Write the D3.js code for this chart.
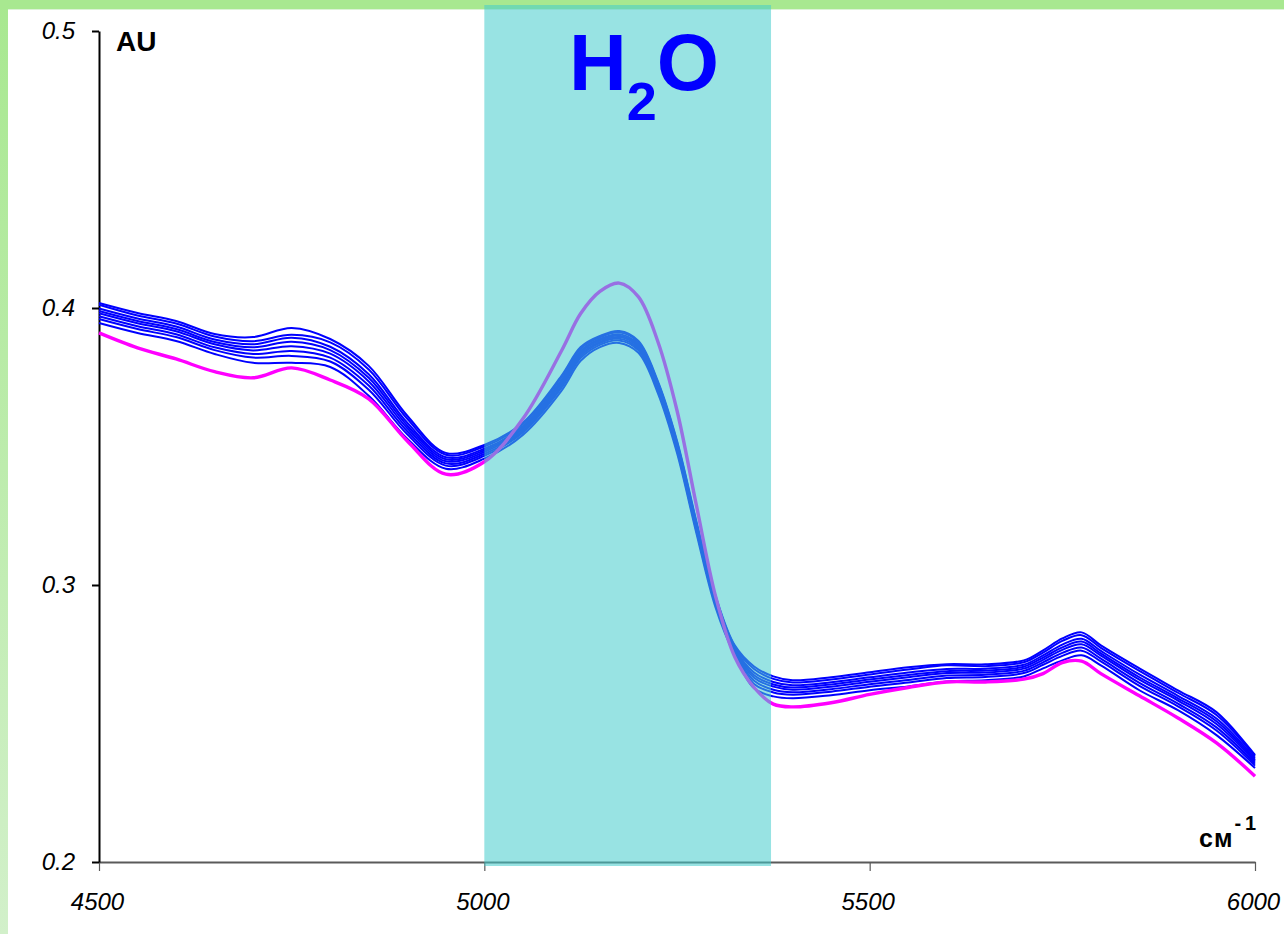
<!DOCTYPE html>
<html>
<head>
<meta charset="utf-8">
<script src="https://cdn.jsdelivr.net/npm/d3@7"></script>
<style>
  html, body { margin: 0; padding: 0; background: #fff; }
  svg { display: block; }
  text { font-family: "Liberation Sans", Arial, Helvetica, sans-serif; }
</style>
</head>
<body>
<svg id="chart" width="1284" height="934"></svg>
<script>
// Wavenumber grid (cm^-1) shared by every spectrum
const wavenumbers = [4500,4550,4600,4650,4700,4750,4800,4850,4900,4950,
                     5000,5050,5100,5125,5150,5175,5200,5225,5250,5275,
                     5300,5325,5350,5375,5400,5450,5500,5550,5600,5650,
                     5700,5725,5750,5775,5800,5850,5900,5950,6000];

// Absorbance (AU) of the reference spectrum
const magenta = [.3910,.3856,.3816,.3770,.3748,.3784,.3740,.3672,.3520,.3400,
                 .3445,.3600,.3845,.3980,.4060,.4090,.4040,.3880,.3630,.3290,
                 .2960,.2740,.2630,.2570,.2560,.2575,.2605,.2630,.2650,.2650,
                 .2660,.2680,.2720,.2725,.2680,.2600,.2520,.2430,.2310];

// Absorbance (AU) of the sample spectra
const blue1 = [.4018,.3982,.3953,.3906,.3895,.3928,.3888,.3791,.3611,.3477,
               .3506,.3586,.3755,.3859,.3899,.3917,.3881,.3737,.3521,.3232,
               .2962,.2782,.2706,.2670,.2656,.2667,.2685,.2703,.2714,.2714,
               .2728,.2764,.2807,.2829,.2782,.2699,.2620,.2541,.2386];
const blue2 = [.4012,.3973,.3944,.3897,.3880,.3903,.3876,.3778,.3600,.3470,
               .3500,.3581,.3749,.3853,.3894,.3912,.3876,.3732,.3516,.3227,
               .2957,.2778,.2697,.2661,.2648,.2659,.2677,.2695,.2710,.2707,
               .2721,.2756,.2798,.2819,.2773,.2690,.2611,.2531,.2380];
const blue3 = [.3998,.3962,.3933,.3886,.3869,.3893,.3860,.3761,.3586,.3461,
               .3492,.3574,.3740,.3845,.3888,.3905,.3869,.3725,.3509,.3220,
               .2950,.2772,.2684,.2650,.2638,.2649,.2667,.2684,.2697,.2698,
               .2712,.2746,.2785,.2806,.2762,.2677,.2600,.2518,.2373];
const blue4 = [.3989,.3953,.3924,.3877,.3858,.3878,.3848,.3748,.3576,.3454,
               .3486,.3568,.3733,.3839,.3883,.3900,.3864,.3720,.3503,.3215,
               .2945,.2768,.2674,.2641,.2630,.2641,.2659,.2675,.2689,.2691,
               .2705,.2738,.2775,.2796,.2753,.2667,.2591,.2508,.2367];
const blue5 = [.3981,.3945,.3916,.3869,.3847,.3862,.3835,.3735,.3566,.3447,
               .3480,.3563,.3727,.3833,.3878,.3895,.3859,.3715,.3498,.3210,
               .2940,.2763,.2665,.2633,.2622,.2633,.2651,.2667,.2682,.2684,
               .2698,.2730,.2766,.2786,.2745,.2658,.2583,.2498,.2362];
const blue6 = [.3970,.3934,.3905,.3858,.3834,.3845,.3821,.3720,.3555,.3439,
               .3473,.3557,.3719,.3826,.3873,.3889,.3853,.3709,.3492,.3204,
               .2934,.2758,.2654,.2622,.2613,.2624,.2642,.2657,.2673,.2676,
               .2690,.2721,.2755,.2774,.2734,.2647,.2572,.2486,.2355];
const blue7 = [.3960,.3924,.3895,.3848,.3821,.3827,.3807,.3705,.3544,.3431,
               .3466,.3551,.3712,.3819,.3867,.3883,.3847,.3703,.3486,.3198,
               .2928,.2753,.2643,.2612,.2604,.2615,.2633,.2648,.2664,.2668,
               .2682,.2712,.2744,.2763,.2724,.2636,.2562,.2475,.2348];
const blue8 = [.3946,.3910,.3881,.3834,.3802,.3802,.3787,.3683,.3528,.3420,
               .3456,.3542,.3701,.3809,.3859,.3874,.3838,.3694,.3477,.3189,
               .2919,.2746,.2627,.2598,.2591,.2602,.2620,.2634,.2652,.2656,
               .2670,.2699,.2728,.2746,.2710,.2620,.2548,.2458,.2339];

const xTicks = [4500, 5000, 5500, 6000];
const yTicks = [0.2, 0.3, 0.4, 0.5];
const waterBand = [5000, 5372];   // highlighted water absorption region, cm^-1

const svg = d3.select("#chart");

const x = d3.scaleLinear().domain([4500, 6000]).range([99, 1255]);
const y = d3.scaleLinear().domain([0.2, 0.5]).range([862, 31]);

// ---- slide frame: green strip along top and left edge ----
const defs = svg.append("defs");
const grad = defs.append("linearGradient")
  .attr("id", "leftStrip").attr("x1", 0).attr("y1", 0).attr("x2", 0).attr("y2", 1);
grad.append("stop").attr("offset", "0%").attr("stop-color", "#a8e890");
grad.append("stop").attr("offset", "100%").attr("stop-color", "#d2f0ca");

svg.append("rect").attr("x", 0).attr("y", 0).attr("width", 8).attr("height", 934)
  .attr("fill", "url(#leftStrip)");
svg.append("rect").attr("x", 0).attr("y", 0).attr("width", 1284).attr("height", 9)
  .attr("fill", "#a8e890");
svg.append("rect").attr("x", 8).attr("y", 9).attr("width", 1276).attr("height", 1)
  .attr("fill", "#dcf2d6");

// ---- axes ----
const gx = svg.append("g")
  .attr("transform", "translate(0,862)")
  .call(d3.axisBottom(x).tickValues(xTicks).tickFormat(d3.format("d"))
        .tickSize(9).tickSizeOuter(0).tickPadding(22));
gx.select(".domain").attr("stroke", "#5a5a5a").attr("stroke-width", 2);
gx.selectAll(".tick line").attr("stroke", "#5a5a5a").attr("stroke-width", 1.2);
gx.selectAll(".tick text")
  .attr("font-size", 24).attr("font-style", "italic").attr("fill", "#000")
  .attr("font-family", "'Liberation Sans', Arial, sans-serif")
  .attr("dx", -2);

const gy = svg.append("g")
  .attr("transform", "translate(99,0)")
  .call(d3.axisLeft(y).tickValues(yTicks).tickFormat(d3.format(".1f"))
        .tickSize(7).tickSizeOuter(0).tickPadding(17));
gy.select(".domain").attr("stroke", "#000").attr("stroke-width", 2);
gy.selectAll(".tick line").attr("stroke", "#000").attr("stroke-width", 2);
gy.selectAll(".tick text")
  .attr("font-size", 24).attr("font-style", "italic").attr("fill", "#000")
  .attr("font-family", "'Liberation Sans', Arial, sans-serif");

// ---- spectra ----
const line = d3.line()
  .x((d, i) => x(wavenumbers[i]))
  .y(d => y(d))
  .curve(d3.curveCatmullRom.alpha(0.5));

const samples = [blue1, blue2, blue3, blue4, blue5, blue6, blue7, blue8];
svg.append("g").selectAll("path").data(samples).join("path")
  .attr("d", line)
  .attr("fill", "none")
  .attr("stroke", "#0000ff")
  .attr("stroke-width", 2)
  .attr("stroke-linejoin", "round");

svg.append("path")
  .attr("d", line(magenta))
  .attr("fill", "none")
  .attr("stroke", "#ff00ff")
  .attr("stroke-width", 3.4)
  .attr("stroke-linejoin", "round");

// ---- water band overlay ----
svg.append("rect")
  .attr("x", x(waterBand[0]))
  .attr("width", x(waterBand[1]) - x(waterBand[0]))
  .attr("y", 5)
  .attr("height", 861)
  .attr("fill", "rgb(68,204,204)")
  .attr("fill-opacity", 0.55);

const h2o = svg.append("text")
  .attr("x", 569).attr("y", 90)
  .attr("fill", "#0000ff").attr("font-weight", "bold").attr("font-size", 80);
h2o.append("tspan").text("H");
h2o.append("tspan").attr("font-size", 54).attr("dy", 30).text("2");
h2o.append("tspan").attr("dy", -30).text("O");

// ---- axis titles ----
svg.append("text")
  .attr("x", 116).attr("y", 51)
  .attr("font-weight", "bold").attr("font-size", 28).attr("fill", "#000")
  .text("AU");

const unit = svg.append("text")
  .attr("x", 1199).attr("y", 847)
  .attr("font-weight", "bold").attr("font-size", 25).attr("fill", "#000");
unit.append("tspan").attr("letter-spacing", 1).text("см");
unit.append("tspan").attr("dy", -17).attr("font-size", 20).attr("dx", 1).text("-");
unit.append("tspan").attr("font-size", 20).attr("dx", 4).text("1");
</script>
</body>
</html>
